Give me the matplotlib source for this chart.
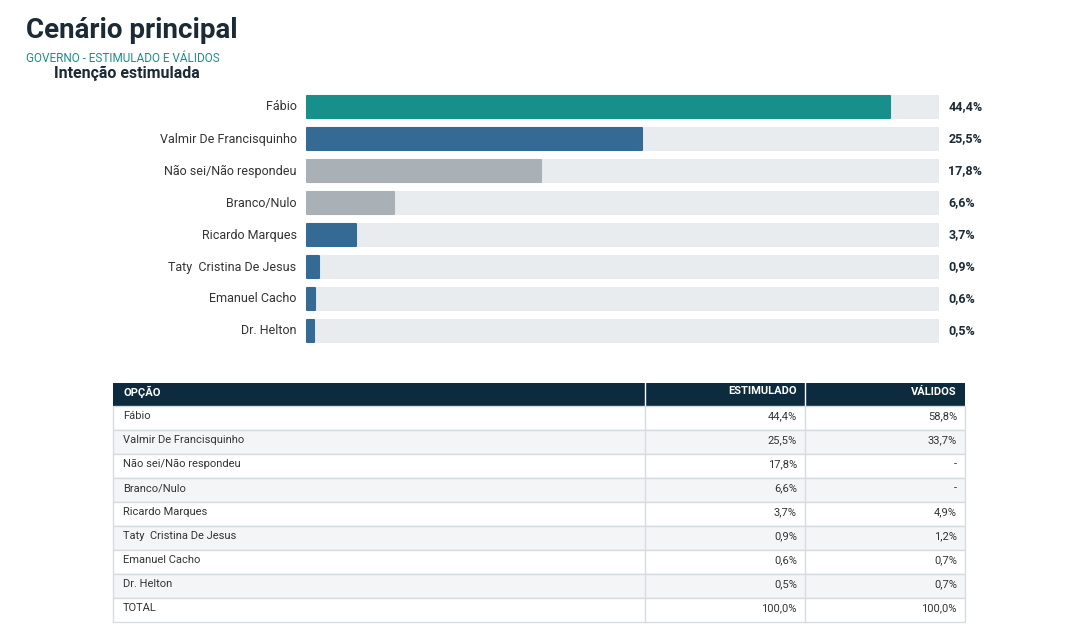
import matplotlib
matplotlib.use("Agg")
import matplotlib.pyplot as plt
from matplotlib.patches import Rectangle

plt.rcParams['font.family'] = ['Roboto', 'DejaVu Sans']

categories = ["Fábio", "Valmir De Francisquinho", "Não sei/Não respondeu", "Branco/Nulo",
              "Ricardo Marques", "Taty  Cristina De Jesus", "Emanuel Cacho", "Dr. Helton"]
estimulado = [44.4, 25.5, 17.8, 6.6, 3.7, 0.9, 0.6, 0.5]
validos = ["58,8%", "33,7%", "-", "-", "4,9%", "1,2%", "0,7%", "0,7%"]
colors = ["#178f8b", "#356a94", "#a9b1b6", "#a9b1b6", "#356a94", "#356a94", "#356a94", "#356a94"]
track_max = 48.0

W, H = 1070, 641
fig = plt.figure(figsize=(W/100, H/100), dpi=100)
fig.patch.set_facecolor("white")

fig.text(26/W, 1-30/H, "Cenário principal", fontsize=20, fontweight="bold", color="#1b2a35", va="center")
fig.text(26/W, 1-58/H, "GOVERNO - ESTIMULADO E VÁLIDOS", fontsize=8.5, color="#178f8b", va="center")
fig.text(54/W, 1-73/H, "Intenção estimulada", fontsize=11.5, fontweight="bold", color="#1b2a35", va="center")

# bar axes: x 306..939, rows y 91..347
ax = fig.add_axes([306/W, 1-347/H, (939-306)/W, (347-91)/H])
n = len(categories)
ys = list(range(n))
ax.barh(ys, [track_max]*n, height=0.68, color="#e8ecef", edgecolor="#e8ecef", linewidth=1.5, joinstyle="round")
ax.barh(ys, estimulado, height=0.68, color=colors, edgecolor=colors, linewidth=1.5, joinstyle="round")
ax.set_xlim(-0.1, track_max + 0.1)
ax.set_ylim(n - 0.5, -0.5)
ax.axis("off")
for y, c, v in zip(ys, categories, estimulado):
    ax.text(-1.8/633*48*6, y, c, ha="right", va="center", fontsize=9, color="#333333")
    ax.text(track_max + 0.8, y, f"{v:.1f}%".replace(".", ","), ha="left", va="center",
            fontsize=9, fontweight="bold", color="#1b2a35")

# table axes in pixel coordinates
tx = fig.add_axes([0, 0, 1, 1])
tx.set_xlim(0, W)
tx.set_ylim(H, 0)
tx.axis("off")
cols = [113, 645, 805, 965]
top = 383
hh = 23
rh = 24
tx.add_patch(Rectangle((113, top), 852, hh, facecolor="#0d2b3e", edgecolor="none"))
for xc in cols[1:3]:
    tx.plot([xc, xc], [top, top+hh], color="white", lw=1)
tx.text(123, top+hh/2-3, "OPÇÃO", color="white", fontsize=8, fontweight="bold", va="center")
tx.text(797, top+hh/2-3, "ESTIMULADO", color="white", fontsize=8, fontweight="bold", va="center", ha="right")
tx.text(957, top+hh/2-3, "VÁLIDOS", color="white", fontsize=8, fontweight="bold", va="center", ha="right")
rows = list(zip(categories, [f"{v:.1f}%".replace(".", ",") for v in estimulado], validos)) + [("TOTAL", "100,0%", "100,0%")]
for i, (a, b, c) in enumerate(rows):
    y0 = top + hh + i*rh
    fc = "#ffffff" if i % 2 == 0 else "#f3f5f7"
    tx.add_patch(Rectangle((113, y0), 852, rh, facecolor=fc, edgecolor="#d5dce2", lw=1))
    for xc in cols[1:3]:
        tx.plot([xc, xc], [y0, y0+rh], color="#d5dce2", lw=1)
    yc = y0 + rh/2 - 2
    tx.text(123, yc, a, fontsize=8, color="#333333", va="center")
    tx.text(797, yc, b, fontsize=8, color="#333333", va="center", ha="right")
    tx.text(957, yc, c, fontsize=8, color="#333333", va="center", ha="right")

fig.savefig("out.png", dpi=100, facecolor="white")
